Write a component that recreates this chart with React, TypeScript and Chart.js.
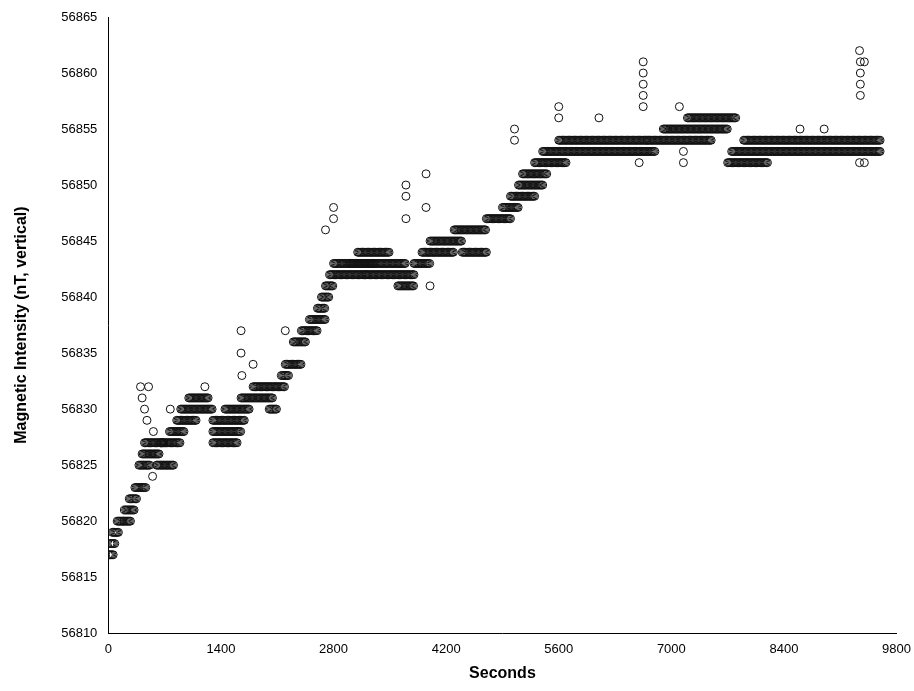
import React, { useEffect, useRef } from "react";
import { Chart, registerables } from "chart.js";
Chart.register(...registerables);

// main bands: [startSec, endSec, nT]
const runs: number[][] = [
  [0,60,56817],[20,90,56818],[50,130,56819],[110,280,56820],[200,330,56821],[260,360,56822],
  [330,470,56823],[380,520,56825],[420,640,56826],[450,700,56827],[600,820,56825],[650,900,56827],
  [760,950,56828],[850,1100,56829],[900,1300,56830],[1000,1250,56831],[1300,1650,56828],
  [1300,1600,56827],[1300,1700,56829],[1450,1750,56830],[1650,2050,56831],[1800,2200,56832],
  [2000,2100,56830],[2150,2250,56833],[2200,2400,56834],[2300,2450,56836],[2400,2600,56837],
  [2500,2700,56838],[2600,2700,56839],[2650,2750,56840],[2700,2800,56841],[2750,3200,56842],
  [2800,3300,56843],[3000,3700,56843],[3100,3500,56844],[3200,3800,56842],[3600,3800,56841],
  [3800,4000,56843],[3900,4300,56844],[4000,4400,56845],[4300,4700,56846],[4400,4700,56844],
  [4700,5000,56847],[4900,5100,56848],[5000,5300,56849],[5100,5400,56850],[5150,5450,56851],
  [5300,5700,56852],[5400,6800,56853],[5600,6700,56854],[6700,7500,56854],[6900,7700,56855],
  [7200,7800,56856],[7700,8200,56852],[7750,9600,56853],[7900,9600,56854],
];
const sampleStep = 15;
// isolated readings: [sec, nT]
const outliers: number[][] = [
  [400,56832],[420,56831],[450,56830],[500,56832],[480,56829],[560,56828],[550,56824],[770,56830],
  [1200,56832],[1650,56837],[1650,56835],[1660,56833],[1800,56834],[2200,56837],[2700,56846],
  [2800,56848],[2800,56847],[3700,56850],[3700,56849],[3700,56847],[3950,56851],[3950,56848],
  [4000,56841],[5050,56855],[5050,56854],[5600,56857],[5600,56856],[6100,56856],[6650,56861],
  [6650,56860],[6650,56859],[6650,56858],[6650,56857],[6600,56852],[7100,56857],[7150,56852],
  [7150,56853],[8600,56855],[8900,56855],[9340,56862],[9350,56861],[9350,56860],[9350,56859],
  [9350,56858],[9340,56852],[9400,56852],[9400,56861],
];

export default function App() {
  const ref = useRef<HTMLCanvasElement>(null);
  useEffect(() => {
    document.body.style.margin = "0";
    const pts: { x: number; y: number }[] = [];
    for (const [s, e, v] of runs) for (let t = s; t <= e; t += sampleStep) pts.push({ x: t, y: v });
    for (const [t, v] of outliers) pts.push({ x: t, y: v });
    const font = { family: "Liberation Sans, Arial", size: 13 };
    const chart = new Chart(ref.current!, {
      type: "scatter",
      data: { datasets: [{ data: pts, pointStyle: "circle", pointRadius: 4, borderColor: "#111", borderWidth: 1, backgroundColor: "rgba(255,255,255,0)" }] },
      options: {
        animation: false, responsive: false, maintainAspectRatio: false,
        layout: { padding: { top: 17, right: 17, left: 8, bottom: 4 } },
        plugins: { legend: { display: false }, tooltip: { enabled: false } },
        scales: {
          x: { type: "linear", min: 0, max: 9800, grid: { display: false, drawTicks: true, tickLength: 5, color: "#000" }, border: { color: "#000" },
            ticks: { stepSize: 1400, color: "#000", font, callback: (v: any) => String(v) },
            title: { display: true, text: "Seconds", color: "#000", font: { ...font, size: 16, weight: "bold" } } },
          y: { min: 56810, max: 56865, grid: { display: false, tickLength: 5, color: "#000" }, border: { color: "#000" },
            ticks: { stepSize: 5, color: "#000", font, padding: 6, callback: (v: any) => String(v) },
            title: { display: true, text: "Magnetic Intensity (nT, vertical)", color: "#000", padding: { top: 4, bottom: 24 }, font: { ...font, size: 16, weight: "bold" } } },
        },
      },
    });
    return () => chart.destroy();
  }, []);
  return <canvas ref={ref} width={914} height={691} style={{ display: "block" }} />;
}
